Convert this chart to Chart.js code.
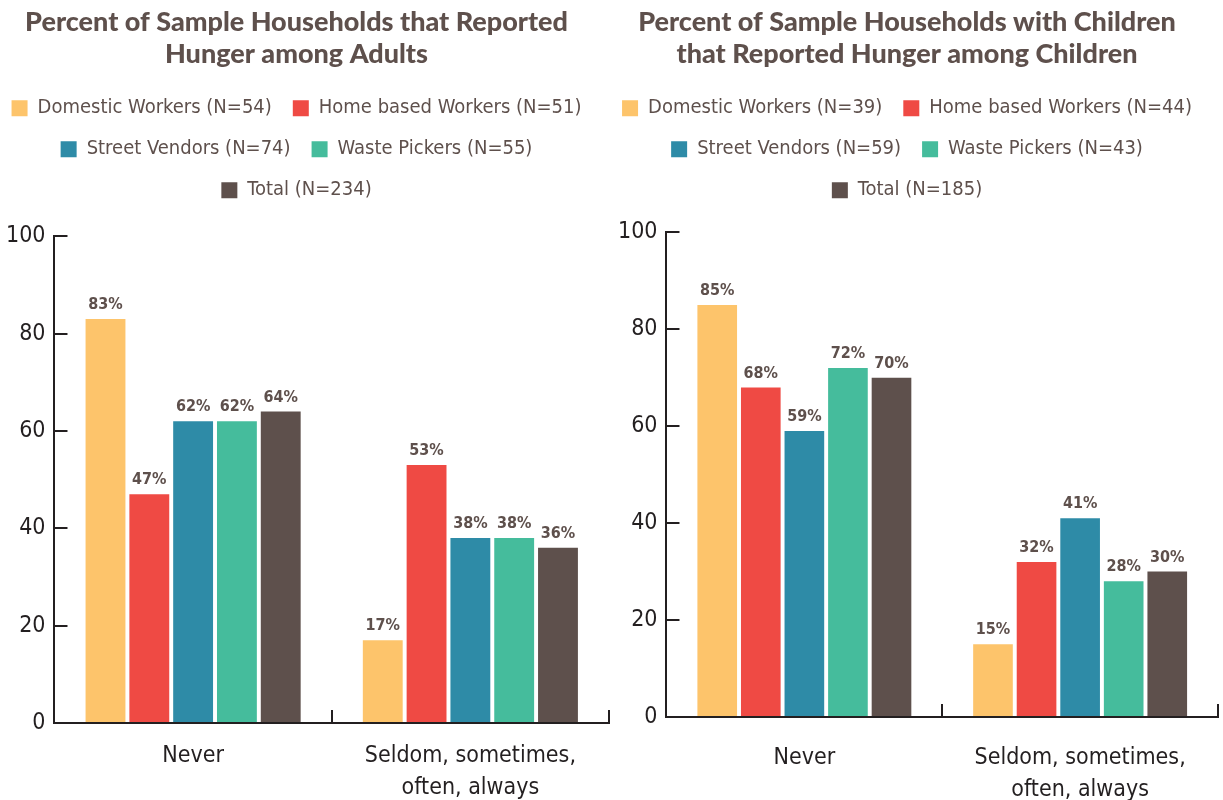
<!DOCTYPE html>
<html lang="en">
<head>
<meta charset="UTF-8">
<title>Reported Hunger among Adults and Children</title>
<script src="https://cdn.jsdelivr.net/npm/chart.js"></script>
<style>
  body { margin: 0; background: #fff; overflow: hidden; }
  .wrap { display: flex; width: 1223px; height: 800px; }
  .box { position: relative; width: 611px; height: 800px; }
</style>
</head>
<body>
<div class="wrap">
  <div class="box"><canvas id="adults"></canvas></div>
  <div class="box"><canvas id="children"></canvas></div>
</div>
<script>
// data, values in percent: [Never, Seldom/sometimes/often/always]
const categories = ['Never', ['Seldom, sometimes,', 'often, always']];
const groups = ['Domestic Workers', 'Home based Workers', 'Street Vendors', 'Waste Pickers', 'Total'];
const colors = ['#fdc46b', '#ef4a44', '#2e8ba7', '#45bc9c', '#5e504c'];
const yTicks = [0, 20, 40, 60, 80, 100];

const adultsN = [54, 51, 74, 55, 234];
const adultsDomestic = [83, 17];
const adultsHome = [47, 53];
const adultsStreet = [62, 38];
const adultsWaste = [62, 38];
const adultsTotal = [64, 36];

const childrenN = [39, 44, 59, 43, 185];
const childrenDomestic = [85, 15];
const childrenHome = [68, 32];
const childrenStreet = [59, 41];
const childrenWaste = [72, 28];
const childrenTotal = [70, 30];

const condensed = '"DejaVu Sans Condensed", "Liberation Sans Narrow", sans-serif';
const ink = '#231f20';
const brown = '#5e504c';

// percent labels above each bar
const valueLabels = {
  id: 'valueLabels',
  afterDatasetsDraw(chart) {
    const ctx = chart.ctx;
    ctx.save();
    ctx.font = 'bold 16px ' + condensed;
    ctx.fillStyle = brown;
    ctx.textAlign = 'center';
    ctx.textBaseline = 'bottom';
    chart.data.datasets.forEach((ds, i) => {
      chart.getDatasetMeta(i).data.forEach((bar, j) => {
        ctx.fillText(ds.data[j] + '%', bar.x, bar.y - 6);
      });
    });
    ctx.restore();
  }
};

// leave some room under the legend, like the original
const legendGap = {
  id: 'legendGap',
  beforeInit(chart, args, opts) {
    const fit = chart.legend.fit;
    chart.legend.fit = function () {
      fit.bind(chart.legend)();
      this.height += opts.extra;
    };
  }
};

function makeChart(id, title, ns, series, pad, gap, xHeight, xPad) {
  const datasets = series.map((vals, i) => ({
    label: groups[i] + ' (N=' + ns[i] + ')',
    data: vals,
    backgroundColor: colors[i],
    borderWidth: 0,
    categoryPercentage: 0.79,
    barPercentage: 0.91
  }));

  return new Chart(document.getElementById(id), {
    type: 'bar',
    data: { labels: categories, datasets: datasets },
    plugins: [valueLabels, legendGap],
    options: {
      responsive: true,
      maintainAspectRatio: false,
      animation: false,
      layout: { padding: { left: pad[0], right: pad[1], top: 0, bottom: 0 } },
      plugins: {
        title: {
          display: true,
          text: title,
          color: brown,
          font: { family: 'Lato', size: 27, weight: '900', lineHeight: 1.19 },
          padding: { top: 6, bottom: 7 }
        },
        legend: {
          position: 'top',
          labels: {
            boxWidth: 16,
            boxHeight: 16,
            padding: 21,
            color: brown,
            font: { family: condensed, size: 20 }
          }
        },
        legendGap: { extra: gap },
        tooltip: { enabled: false }
      },
      scales: {
        x: {
          offset: true,
          afterFit: scale => {
            scale.height = xHeight;
            scale.paddingLeft = 0;
            scale.paddingRight = 0;
          },
          border: { display: true, color: ink, width: 2 },
          grid: { display: true, drawOnChartArea: false, drawTicks: true, tickLength: -13, color: ink, lineWidth: 2, offset: true },
          ticks: { color: ink, padding: xPad, font: { family: condensed, size: 23, lineHeight: 1.35 } }
        },
        y: {
          min: 0,
          max: 100,
          afterBuildTicks: axis => { axis.ticks = yTicks.map(v => ({ value: v })); },
          border: { display: true, color: ink, width: 2 },
          grid: { display: true, drawOnChartArea: false, drawTicks: true, tickLength: -13, color: ink, lineWidth: 2 },
          ticks: { color: ink, padding: 22, font: { family: condensed, size: 23 } }
        }
      }
    }
  });
}

makeChart('adults',
  ['Percent of Sample Households that Reported', 'Hunger among Adults'],
  adultsN,
  [adultsDomestic, adultsHome, adultsStreet, adultsWaste, adultsTotal], [-16, 2], 26, 77, 31);

makeChart('children',
  ['Percent of Sample Households with Children', 'that Reported Hunger among Children'],
  childrenN,
  [childrenDomestic, childrenHome, childrenStreet, childrenWaste, childrenTotal], [-15, 4], 22, 83, 39);
</script>
</body>
</html>
